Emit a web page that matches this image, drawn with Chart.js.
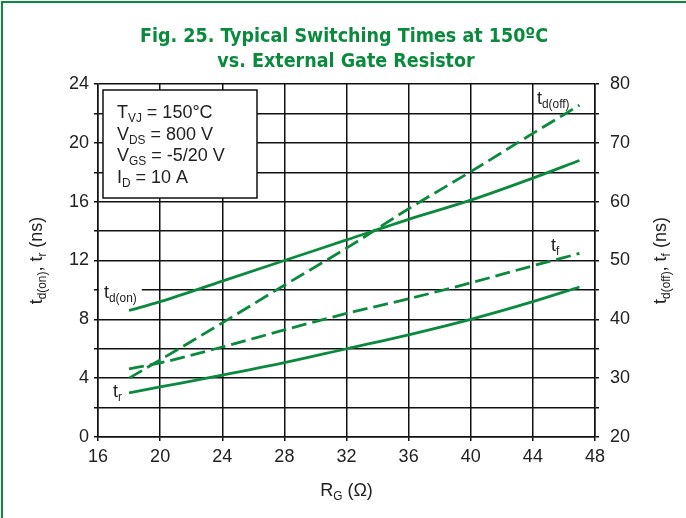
<!DOCTYPE html>
<html>
<head>
<meta charset="utf-8">
<script src="https://cdn.jsdelivr.net/npm/chart.js@4"></script>
<style>
  html, body { margin: 0; padding: 0; background: #fff; }
  #wrap { position: relative; width: 686px; height: 518px; }
</style>
</head>
<body>
<div id="wrap"><canvas id="chart" width="686" height="518"></canvas></div>
<script>
"use strict";

// gate resistor values (ohm)
const rg = [18, 20, 24, 28, 32, 36, 40, 44, 47];
// left axis series (ns)
const td_on = [8.6, 9.2, 10.6, 12.0, 13.4, 14.8, 16.1, 17.6, 18.8];
const t_r = [3.0, 3.4, 4.2, 5.05, 6.0, 6.95, 8.0, 9.2, 10.2];
// right axis series (ns)
const td_off = [30.0, 33.1, 39.4, 45.8, 52.1, 58.8, 65.1, 71.6, 76.4];
const t_f = [31.6, 32.6, 35.3, 38.2, 41.0, 43.5, 46.2, 49.1, 51.2];

const title_lines = ['Fig. 25. Typical Switching Times at 150ºC', 'vs. External Gate Resistor'];
const cond_lines = [
  [['T', false], ['VJ', true], [' = 150°C', false]],
  [['V', false], ['DS', true], [' = 800 V', false]],
  [['V', false], ['GS', true], [' = -5/20 V', false]],
  [['I', false], ['D', true], [' = 10 A', false]],
];

const green = '#0b8a3e';
const font = "'Liberation Sans', Arial, sans-serif";

function pts(ys) {
  return rg.map((x, i) => ({ x: x, y: ys[i] }));
}

function line(label, ys, axis, dashed) {
  return {
    label: label,
    data: pts(ys),
    yAxisID: axis,
    borderColor: green,
    borderWidth: 2.8,
    borderDash: dashed ? [15, 6] : [],
    pointRadius: 0,
    fill: false,
    cubicInterpolationMode: 'monotone',
  };
}

// draw text with subscript parts, returns width
function drawRich(ctx, parts, x, y, size) {
  let cx = x;
  parts.forEach(([t, sub]) => {
    ctx.font = (sub ? size * 0.66 : size) + 'px ' + font;
    ctx.fillText(t, cx, sub ? y + size * 0.22 : y);
    cx += ctx.measureText(t).width;
  });
  return cx - x;
}

function richWidth(ctx, parts, size) {
  let w = 0;
  parts.forEach(([t, sub]) => {
    ctx.font = (sub ? size * 0.66 : size) + 'px ' + font;
    w += ctx.measureText(t).width;
  });
  return w;
}

const decor = {
  id: 'decor',
  beforeDraw(chart) {
    const ctx = chart.ctx;
    ctx.save();
    ctx.fillStyle = '#fff';
    ctx.fillRect(0, 0, chart.width, chart.height);
    ctx.strokeStyle = green;
    ctx.lineWidth = 2;
    ctx.beginPath();
    ctx.moveTo(2, chart.height);
    ctx.lineTo(2, 2);
    ctx.lineTo(chart.width, 2);
    ctx.stroke();
    ctx.restore();
  },
  afterDraw(chart) {
    const ctx = chart.ctx;
    const area = chart.chartArea;
    ctx.save();

    // title
    ctx.fillStyle = green;
    ctx.textAlign = 'center';
    ctx.textBaseline = 'alphabetic';
    ctx.font = "bold 19.5px 'Liberation Sans Narrow', 'DejaVu Sans Condensed', sans-serif";
    ctx.fillText(title_lines[0], 344, 42);
    ctx.fillText(title_lines[1], 346, 67);

    // condition box
    ctx.textAlign = 'left';
    ctx.fillStyle = '#fff';
    ctx.fillRect(103, 90, 154, 108);
    ctx.strokeStyle = '#111';
    ctx.lineWidth = 1.5;
    ctx.strokeRect(103, 90, 154, 108);
    ctx.fillStyle = '#222';
    cond_lines.forEach((parts, i) => {
      drawRich(ctx, parts, 117, 118 + i * 21.7, 18);
    });

    // curve labels
    const onParts = [['t', false], ['d(on)', true]];
    ctx.fillStyle = '#fff';
    ctx.fillRect(area.left + 1, 280, richWidth(ctx, onParts, 18) + 10, 22);
    ctx.fillStyle = '#222';
    drawRich(ctx, onParts, 104, 298, 18);
    drawRich(ctx, [['t', false], ['r', true]], 113, 397, 18);
    const offParts = [['t', false], ['d(off)', true]];
    ctx.fillStyle = '#fff';
    ctx.fillRect(536, 86, richWidth(ctx, offParts, 18) + 2, 22);
    ctx.fillStyle = '#222';
    drawRich(ctx, offParts, 537, 104, 18);
    drawRich(ctx, [['t', false], ['f', true]], 551, 251, 18);

    // axis titles
    const cy = (area.top + area.bottom) / 2;
    const leftParts = [['t', false], ['d(on)', true], [', t', false], ['r', true], [' (ns)', false]];
    ctx.save();
    ctx.translate(42, cy);
    ctx.rotate(-Math.PI / 2);
    drawRich(ctx, leftParts, -richWidth(ctx, leftParts, 18) / 2, 0, 18);
    ctx.restore();
    const rightParts = [['t', false], ['d(off)', true], [', t', false], ['f', true], [' (ns)', false]];
    ctx.save();
    ctx.translate(666, cy);
    ctx.rotate(-Math.PI / 2);
    drawRich(ctx, rightParts, -richWidth(ctx, rightParts, 18) / 2, 0, 18);
    ctx.restore();
    const xParts = [['R', false], ['G', true], [' (Ω)', false]];
    drawRich(ctx, xParts, (area.left + area.right) / 2 - richWidth(ctx, xParts, 18) / 2, 496, 18);

    ctx.restore();
  },
};

new Chart(document.getElementById('chart'), {
  type: 'line',
  data: {
    datasets: [
      line('td(on)', td_on, 'yL', false),
      line('tr', t_r, 'yL', false),
      line('td(off)', td_off, 'yR', true),
      line('tf', t_f, 'yR', true),
    ],
  },
  options: {
    responsive: false,
    animation: false,
    layout: { padding: { top: 84, left: 0, right: 0, bottom: 0 } },
    plugins: {
      legend: { display: false },
      title: { display: false },
      tooltip: { enabled: false },
    },
    scales: {
      x: {
        type: 'linear',
        min: 16,
        max: 48,
        ticks: { stepSize: 4, color: '#222', font: { family: font, size: 18 }, padding: 5 },
        grid: { color: '#111', lineWidth: 1.5, tickLength: 4 },
        border: { color: '#111', width: 1.5 },
        afterFit: (s) => { s.height = 518 - 437; },
      },
      yL: {
        position: 'left',
        min: 0,
        max: 24,
        ticks: {
          stepSize: 2,
          color: '#222',
          font: { family: font, size: 18 },
          padding: 5,
          callback: (v) => (v % 4 === 0 ? v : ''),
        },
        grid: { color: '#111', lineWidth: 1.5, tickLength: 4 },
        border: { color: '#111', width: 1.5 },
        afterFit: (s) => { s.width = 98; },
      },
      yR: {
        position: 'right',
        min: 20,
        max: 80,
        ticks: {
          stepSize: 5,
          color: '#222',
          font: { family: font, size: 18 },
          padding: 11,
          callback: (v) => (v % 10 === 0 ? v : ''),
        },
        grid: { drawOnChartArea: false, color: '#111', lineWidth: 1.5, tickLength: 4 },
        border: { color: '#111', width: 1.5 },
        afterFit: (s) => { s.width = 686 - 595; },
      },
    },
  },
  plugins: [decor],
});
</script>
</body>
</html>
